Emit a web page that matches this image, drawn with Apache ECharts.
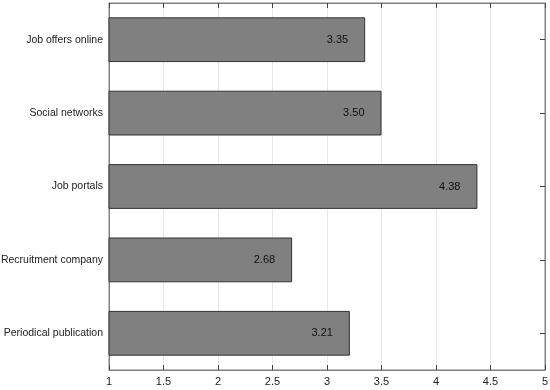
<!DOCTYPE html>
<html><head><meta charset="utf-8">
<script src="https://cdn.jsdelivr.net/npm/echarts@6/dist/echarts.min.js"></script>
<style>html,body{margin:0;padding:0;background:#fff}#c{width:550px;height:390px}</style>
</head><body><div id="c"></div>
<script>
const categories = ["Job offers online", "Social networks", "Job portals", "Recruitment company", "Periodical publication"];
const values = [3.35, 3.50, 4.38, 2.68, 3.21];
const xTicks = [1, 1.5, 2, 2.5, 3, 3.5, 4, 4.5, 5];

const chart = echarts.init(document.getElementById('c'));
const font = 'Liberation Sans, Arial, sans-serif';
const axisCol = '#808080';
chart.setOption({
  animation: false,
  grid: {left: 109, right: 5, top: 3, bottom: 20, show: true, borderColor: axisCol, borderWidth: 1, containLabel: false, outerBoundsMode: 'none'},
  xAxis: [{
    type: 'value', min: xTicks[0], max: xTicks[xTicks.length-1], interval: 0.5, position: 'bottom',
    axisLine: {show: true, lineStyle: {color: axisCol}},
    axisTick: {show: true, inside: true, length: 5, lineStyle: {color: '#404040'}},
    axisLabel: {color: '#222', fontFamily: font, fontSize: 11, margin: 6},
    splitLine: {show: true, lineStyle: {color: '#e8e8e8'}}
  }, {
    type: 'value', min: xTicks[0], max: xTicks[xTicks.length-1], interval: 0.5, position: 'top',
    axisLine: {show: true, lineStyle: {color: axisCol}},
    axisTick: {show: true, inside: true, length: 5, lineStyle: {color: '#404040'}},
    axisLabel: {show: false}, splitLine: {show: false}
  }],
  yAxis: [{
    type: 'category', data: categories, inverse: true, position: 'left',
    axisLine: {show: true, lineStyle: {color: axisCol}},
    axisTick: {show: false},
    axisLabel: {color: '#222', fontFamily: font, fontSize: 10.5, margin: 6}
  }, {
    type: 'category', data: categories, inverse: true, position: 'right',
    axisLine: {show: true, lineStyle: {color: axisCol}},
    axisTick: {show: true, inside: true, alignWithLabel: true, length: 5, lineStyle: {color: '#404040'}},
    axisLabel: {show: false}
  }],
  series: [{
    type: 'bar', data: values, xAxisIndex: 0, yAxisIndex: 0, barWidth: '61%',
    itemStyle: {color: '#808080', borderColor: '#333', borderWidth: 1},
    label: {show: true, position: 'insideRight', distance: 17, color: '#111', fontFamily: font, fontSize: 11,
      formatter: p => p.value.toFixed(2)}
  }]
});
</script></body></html>
